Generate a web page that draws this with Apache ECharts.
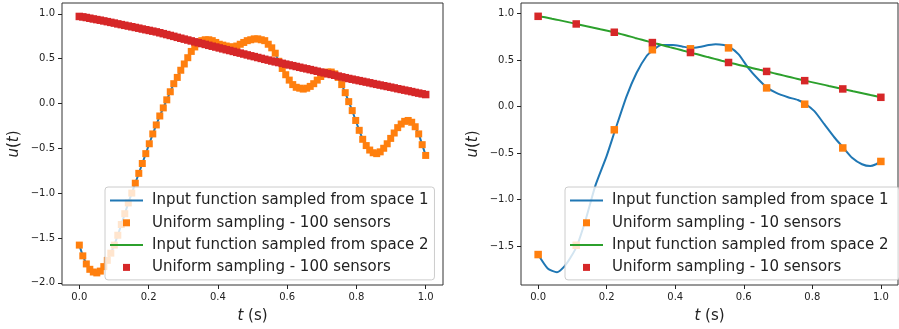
<!DOCTYPE html>
<html>
<head>
<meta charset="utf-8">
<script src="https://cdn.jsdelivr.net/npm/echarts@6/dist/echarts.min.js"></script>
<style>
  html, body { margin: 0; padding: 0; background: #fff; }
  #main { width: 899px; height: 329px; }
</style>
</head>
<body>
<div id="main"></div>
<script>
// values
var space1_100 = [
  -1.58, -1.70, -1.79, -1.85, -1.88, -1.89, -1.87, -1.82, -1.75, -1.67,
  -1.58, -1.47, -1.35, -1.23, -1.11, -1.00, -0.89, -0.78, -0.67, -0.56,
  -0.45, -0.34, -0.24, -0.14, -0.05, 0.04, 0.13, 0.22, 0.29, 0.37,
  0.44, 0.51, 0.58, 0.63, 0.67, 0.70, 0.71, 0.71, 0.70, 0.68,
  0.66, 0.65, 0.64, 0.63, 0.63, 0.64, 0.66, 0.68, 0.70, 0.71,
  0.72, 0.72, 0.71, 0.70, 0.66, 0.62, 0.56, 0.47, 0.39, 0.32,
  0.26, 0.21, 0.18, 0.17, 0.16, 0.17, 0.19, 0.22, 0.26, 0.30,
  0.33, 0.35, 0.35, 0.33, 0.29, 0.21, 0.12, 0.02, -0.08, -0.19,
  -0.30, -0.40, -0.47, -0.52, -0.55, -0.56, -0.54, -0.50, -0.45, -0.39,
  -0.33, -0.27, -0.23, -0.20, -0.19, -0.21, -0.26, -0.34, -0.46, -0.58
];
var space2_100 = [
  0.970, 0.965, 0.958, 0.950, 0.942, 0.935, 0.928, 0.920, 0.912, 0.904,
  0.896, 0.887, 0.879, 0.871, 0.863, 0.855, 0.847, 0.839, 0.830, 0.822,
  0.814, 0.806, 0.798, 0.788, 0.778, 0.768, 0.758, 0.748, 0.737, 0.727,
  0.717, 0.707, 0.697, 0.687, 0.677, 0.668, 0.658, 0.648, 0.638, 0.629,
  0.619, 0.609, 0.599, 0.590, 0.580, 0.570, 0.561, 0.551, 0.541, 0.531,
  0.522, 0.512, 0.502, 0.492, 0.483, 0.473, 0.464, 0.456, 0.447, 0.438,
  0.429, 0.421, 0.412, 0.403, 0.394, 0.386, 0.377, 0.368, 0.359, 0.350,
  0.341, 0.332, 0.323, 0.314, 0.305, 0.296, 0.287, 0.278, 0.270, 0.262,
  0.254, 0.246, 0.238, 0.230, 0.221, 0.213, 0.205, 0.197, 0.189, 0.181,
  0.173, 0.164, 0.156, 0.148, 0.140, 0.132, 0.123, 0.115, 0.107, 0.099
];
var space1_10 = [-1.59, -1.49, -0.25, 0.61, 0.62, 0.63, 0.20, 0.025, -0.445, -0.59];
var space2_10 = [0.969, 0.887, 0.798, 0.687, 0.580, 0.473, 0.377, 0.278, 0.189, 0.099];
// [t, u] points of the blue line in the right panel
var space1_curve = [
  [0, -1.59], [0.028, -1.74], [0.055, -1.78], [0.076, -1.72], [0.095, -1.62],
  [0.114, -1.49], [0.14, -1.20], [0.167, -0.85], [0.2, -0.53], [0.225, -0.25],
  [0.258, 0.11], [0.287, 0.36], [0.316, 0.54], [0.337, 0.61], [0.359, 0.66],
  [0.393, 0.66], [0.42, 0.645], [0.447, 0.63], [0.47, 0.64], [0.498, 0.66],
  [0.518, 0.67], [0.542, 0.66], [0.558, 0.64], [0.585, 0.56], [0.614, 0.41],
  [0.643, 0.29], [0.669, 0.20], [0.695, 0.146], [0.729, 0.10], [0.758, 0.07],
  [0.779, 0.03], [0.806, -0.05], [0.835, -0.19], [0.864, -0.33], [0.89, -0.44],
  [0.916, -0.55], [0.945, -0.62], [0.969, -0.64], [0.986, -0.62], [1.0, -0.59]
];
var xTicks = [0, 0.2, 0.4, 0.6, 0.8, 1.0];
var yTicksLeft = [-2, -1.5, -1, -0.5, 0, 0.5, 1];
var yTicksRight = [-1.5, -1, -0.5, 0, 0.5, 1];

var FONT = 'DejaVu Sans';
var BLUE = '#1f77b4', ORANGE = '#ff7f0e', GREEN = '#2ca02c', RED = '#d62728';
var SQ = 'path://M0,0h10v10h-10z';
var LN = 'path://M0,0h33v2h-33z';

function fmt(v) {
  return v.toFixed(1).replace('-', '\u2212');
}

function pairs(n, vals) {
  return vals.map(function (v, i) { return [i / (n - 1), v]; });
}

var nameRich = {
  i: { fontFamily: FONT, fontSize: 15, fontStyle: 'italic', color: '#222' },
  n: { fontFamily: FONT, fontSize: 15, color: '#222' }
};

function xAxis(idx) {
  return {
    type: 'value', gridIndex: idx, min: -0.05, max: 1.05,
    axisLine: { show: false, onZero: false },
    axisTick: { show: true, length: 4, customValues: xTicks, lineStyle: { color: '#222' } },
    axisLabel: { customValues: xTicks, formatter: fmt, fontFamily: FONT, fontSize: 10, color: '#222', margin: 7 },
    splitLine: { show: false },
    name: '{i|t}{n| (s)}', nameLocation: 'middle', nameGap: 24,
    nameTextStyle: { rich: nameRich }
  };
}

function yAxis(idx, min, max, ticks) {
  return {
    type: 'value', gridIndex: idx, min: min, max: max,
    axisLine: { show: false, onZero: false },
    axisTick: { show: true, length: 4, customValues: ticks, lineStyle: { color: '#222' } },
    axisLabel: { customValues: ticks, formatter: fmt, fontFamily: FONT, fontSize: 10, color: '#222', margin: 7 },
    splitLine: { show: false },
    name: '{i|u}{n|(}{i|t}{n|)}', nameLocation: 'middle', nameGap: 40,
    nameTextStyle: { rich: nameRich }
  };
}

function legend(left, names, colors) {
  return {
    orient: 'vertical', left: left, top: 187, z: 10,
    selectedMode: false,
    backgroundColor: 'rgba(255,255,255,0.8)',
    borderColor: '#ccc', borderWidth: 1, borderRadius: 3,
    padding: [6, 6, 5, 5],
    itemWidth: 33, itemHeight: 7, itemGap: 7.3,
    textStyle: { fontFamily: FONT, fontSize: 15, color: '#222', lineHeight: 15, padding: [0, 0, 0, 4] },
    data: [
      { name: names[0], icon: LN, itemStyle: { color: colors[0] } },
      { name: names[1], icon: SQ, itemStyle: { color: colors[1] } },
      { name: names[2], icon: LN, itemStyle: { color: colors[2] } },
      { name: names[3], icon: SQ, itemStyle: { color: colors[3] } }
    ]
  };
}

var L = ['Input function sampled from space 1', 'Uniform sampling - 100 sensors',
         'Input function sampled from space 2', 'Uniform sampling - 100 sensors '];
var R = ['Input function sampled from space 1 ', 'Uniform sampling - 10 sensors',
         'Input function sampled from space 2 ', 'Uniform sampling - 10 sensors '];
var C = [BLUE, ORANGE, GREEN, RED];

var chart = echarts.init(document.getElementById('main'), null, { renderer: 'canvas' });
chart.setOption({
  animation: false,
  backgroundColor: '#fff',
  grid: [
    { left: 62, right: 456, top: 3, bottom: 42, show: true, borderColor: '#333', borderWidth: 1 },
    { left: 521, right: 1, top: 3, bottom: 42, show: true, borderColor: '#333', borderWidth: 1 }
  ],
  xAxis: [xAxis(0), xAxis(1)],
  yAxis: [yAxis(0, -2.025, 1.12, yTicksLeft), yAxis(1, -1.917, 1.112, yTicksRight)],
  legend: [legend(105, L, C), legend(565, R, C)],
  series: [
    { name: L[0], type: 'line', xAxisIndex: 0, yAxisIndex: 0, z: 2,
      data: pairs(100, space1_100), symbol: 'none',
      lineStyle: { color: BLUE, width: 2 }, itemStyle: { color: BLUE } },
    { name: L[1], type: 'scatter', xAxisIndex: 0, yAxisIndex: 0, z: 3,
      data: pairs(100, space1_100), symbol: 'rect', symbolSize: 7,
      itemStyle: { color: ORANGE, opacity: 1 } },
    { name: L[2], type: 'line', xAxisIndex: 0, yAxisIndex: 0, z: 4,
      data: pairs(100, space2_100), symbol: 'none',
      lineStyle: { color: GREEN, width: 2 }, itemStyle: { color: GREEN } },
    { name: L[3], type: 'scatter', xAxisIndex: 0, yAxisIndex: 0, z: 5,
      data: pairs(100, space2_100), symbol: 'rect', symbolSize: 7.5,
      itemStyle: { color: RED, opacity: 1 } },

    { name: R[0], type: 'line', xAxisIndex: 1, yAxisIndex: 1, z: 2,
      data: space1_curve, symbol: 'none', smooth: 0.2,
      lineStyle: { color: BLUE, width: 2 }, itemStyle: { color: BLUE } },
    { name: R[1], type: 'scatter', xAxisIndex: 1, yAxisIndex: 1, z: 3,
      data: pairs(10, space1_10), symbol: 'rect', symbolSize: 7.5,
      itemStyle: { color: ORANGE, opacity: 1 } },
    { name: R[2], type: 'line', xAxisIndex: 1, yAxisIndex: 1, z: 4,
      data: pairs(100, space2_100), symbol: 'none',
      lineStyle: { color: GREEN, width: 2 }, itemStyle: { color: GREEN } },
    { name: R[3], type: 'scatter', xAxisIndex: 1, yAxisIndex: 1, z: 5,
      data: pairs(10, space2_10), symbol: 'rect', symbolSize: 7.5,
      itemStyle: { color: RED, opacity: 1 } }
  ]
});
</script>
</body>
</html>
